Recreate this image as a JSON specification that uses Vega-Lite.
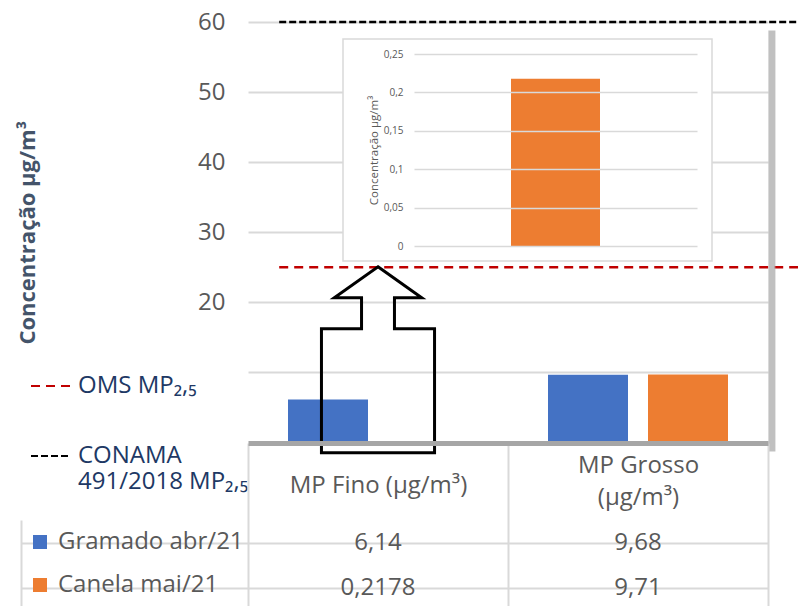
{
  "$schema": "https://vega.github.io/schema/vega-lite/v6.json",
  "width": 798,
  "height": 606,
  "autosize": "none",
  "padding": 0,
  "background": "white",
  "config": {
    "view": {"stroke": null},
    "font": "Open Sans",
    "locale": {"number": {"decimal": ",", "thousands": ".", "grouping": [3], "currency": ["R$", ""]}}
  },
  "datasets": {
    "medicoes": [
      {"tamanho": "MP Fino (µg/m³)", "serie": "Gramado abr/21", "valor": 6.14},
      {"tamanho": "MP Fino (µg/m³)", "serie": "Canela mai/21", "valor": 0.2178},
      {"tamanho": "MP Grosso (µg/m³)", "serie": "Gramado abr/21", "valor": 9.68},
      {"tamanho": "MP Grosso (µg/m³)", "serie": "Canela mai/21", "valor": 9.71}
    ],
    "limites": [
      {"limite": "OMS MP₂,₅", "valor": 25},
      {"limite": "CONAMA 491/2018 MP₂,₅", "valor": 60}
    ],
    "anotacao": [
      {"anotacao": "ampliação de Canela mai/21, MP Fino"}
    ],
    "sombra": [
      {"elemento": "sombra do gráfico"}
    ]
  },
  "resolve": {"scale": {"x": "independent", "y": "independent", "color": "independent"}},
  "layer": [
    {
      "data": {"name": "medicoes"},
      "layer": [
        {
          "mark": {"type": "bar"},
          "encoding": {
            "x": {
              "field": "tamanho", "type": "nominal",
              "scale": {"domain": ["MP Fino (µg/m³)", "MP Grosso (µg/m³)"], "range": [248, 768], "paddingInner": 0, "paddingOuter": 0},
              "axis": null
            },
            "xOffset": {
              "field": "serie", "type": "nominal",
              "scale": {"domain": ["Gramado abr/21", "Canela mai/21"], "paddingInner": 0.2, "paddingOuter": 0.4}
            },
            "y": {
              "field": "valor", "type": "quantitative",
              "scale": {"domain": [0, 60], "range": [442.5, 22], "nice": false},
              "axis": {
                "orient": "left", "offset": -248,
                "values": [10, 20, 30, 40, 50, 60],
                "labelExpr": "datum.value == 10 ? '' : datum.label",
                "grid": true, "gridColor": "#d9d9d9", "gridWidth": 2,
                "domain": false, "ticks": false,
                "labelPadding": 23, "labelFontSize": 24, "labelColor": "#595959",
                "title": "Concentração µg/m³", "titleFontSize": 22, "titleFontWeight": "bold",
                "titleColor": "#44546A", "titlePadding": 158
              }
            },
            "color": {
              "field": "serie", "type": "nominal",
              "scale": {"domain": ["Gramado abr/21", "Canela mai/21"], "range": ["#4472C4", "#ED7D31"]},
              "legend": {
                "orient": "none", "legendX": 28, "legendY": 530, "title": null,
                "symbolType": "square", "symbolSize": 196, "symbolStrokeWidth": 0, "symbolOpacity": 1,
                "labelFontSize": 24, "labelColor": "#595959", "labelOffset": 6, "labelLimit": 300,
                "rowPadding": 19, "padding": 0
              }
            }
          }
        },
        {
          "data": {"name": "limites"},
          "mark": {"type": "rule", "strokeWidth": 2.5},
          "encoding": {
            "y": {"field": "valor", "type": "quantitative"},
            "x": {"datum": "MP Fino (µg/m³)", "bandPosition": 0.12},
            "x2": {"value": "width"},
            "stroke": {
              "field": "limite", "type": "nominal",
              "scale": {"domain": ["OMS MP₂,₅", "CONAMA 491/2018 MP₂,₅"], "range": ["#C00000", "#000000"]},
              "legend": {
                "orient": "none", "legendX": 30, "legendY": 365, "title": null,
                "symbolType": "stroke", "symbolSize": 1600, "symbolStrokeWidth": 2,
                "labelFontSize": 24, "labelColor": "#203864", "labelOffset": 6, "labelLimit": 300,
                "labelExpr": "datum.label == 'CONAMA 491/2018 MP₂,₅' ? ['CONAMA', '491/2018 MP₂,₅'] : datum.label",
                "rowPadding": 37, "padding": 0
              }
            },
            "strokeDash": {
              "field": "limite", "type": "nominal",
              "scale": {"domain": ["OMS MP₂,₅", "CONAMA 491/2018 MP₂,₅"], "range": [[9, 6], [7, 3]]},
              "legend": {
                "orient": "none", "legendX": 30, "legendY": 365, "title": null,
                "symbolType": "stroke", "symbolSize": 1600, "symbolStrokeWidth": 2,
                "labelFontSize": 24, "labelColor": "#203864", "labelOffset": 6, "labelLimit": 300,
                "labelExpr": "datum.label == 'CONAMA 491/2018 MP₂,₅' ? ['CONAMA', '491/2018 MP₂,₅'] : datum.label",
                "rowPadding": 37, "padding": 0
              }
            }
          }
        },
        {
          "data": {"name": "sombra"},
          "mark": {"type": "rule", "color": "#b0b0b0", "strokeWidth": 7, "opacity": 0.8},
          "encoding": {
            "x": {"datum": "MP Grosso (µg/m³)", "bandPosition": 1.015},
            "y": {"datum": 58.8, "type": "quantitative"},
            "y2": {"datum": -1.3}
          }
        }
      ]
    },
    {
      "data": {"name": "medicoes"},
      "transform": [{"filter": "datum.serie == 'Canela mai/21' && datum.tamanho == 'MP Fino (µg/m³)'"}],
      "mark": {"type": "rect", "fill": "white", "stroke": "#d9d9d9", "strokeWidth": 1.5},
      "encoding": {
        "x": {"field": "serie", "type": "nominal", "scale": {"range": [343, 712], "paddingInner": 0, "paddingOuter": 0}, "axis": null},
        "y": {"field": "tamanho", "type": "nominal", "scale": {"range": [39, 261], "paddingInner": 0, "paddingOuter": 0}, "axis": null}
      }
    },
    {
      "data": {"name": "medicoes"},
      "transform": [{"filter": "datum.serie == 'Canela mai/21' && datum.tamanho == 'MP Fino (µg/m³)'"}],
      "mark": {"type": "bar", "color": "#ED7D31"},
      "encoding": {
        "x": {"field": "serie", "type": "nominal", "scale": {"range": [414, 697], "paddingInner": 0.0825, "paddingOuter": 1}, "axis": null},
        "y": {
          "field": "valor", "type": "quantitative",
          "scale": {"domain": [0, 0.25], "range": [246, 54], "nice": false},
          "axis": {
            "orient": "left", "offset": -414, "zindex": 1,
            "values": [0, 0.05, 0.1, 0.15, 0.2, 0.25], "format": "~g",
            "grid": true, "gridColor": "#d9d9d9", "gridWidth": 1.5,
            "domain": false, "ticks": false,
            "labelPadding": 11, "labelFontSize": 10, "labelColor": "#595959",
            "title": "Concentração µg/m³", "titleFontSize": 11.5, "titleFontWeight": "normal",
            "titleColor": "#595959", "titlePadding": 4
          }
        }
      }
    },
    {
      "data": {"name": "medicoes"},
      "mark": {"type": "text", "fontSize": 24, "color": "#595959"},
      "encoding": {
        "x": {
          "field": "tamanho", "type": "nominal",
          "scale": {"domain": ["MP Fino (µg/m³)", "MP Grosso (µg/m³)"], "range": [248, 768], "paddingInner": 0, "paddingOuter": 0},
          "axis": {
            "orient": "bottom", "offset": -163, "title": null, "zindex": 1,
            "domain": true, "domainColor": "#a6a6a6", "domainWidth": 5,
            "ticks": true, "tickBand": "extent", "tickSize": 170, "tickColor": "#d9d9d9", "tickWidth": 2,
            "labelAngle": 0, "labelFontSize": 24, "labelColor": "#595959",
            "labelBaseline": "middle", "labelLineHeight": 32,
            "labelPadding": {"condition": {"test": "datum.value == 'MP Grosso (µg/m³)'", "value": -148}, "value": -128},
            "labelExpr": "datum.label == 'MP Grosso (µg/m³)' ? ['MP Grosso', '(µg/m³)'] : datum.label"
          }
        },
        "y": {
          "field": "serie", "type": "nominal",
          "scale": {"domain": ["Gramado abr/21", "Canela mai/21"], "range": [520, 610], "paddingInner": 0, "paddingOuter": 0},
          "axis": {
            "orient": "left", "offset": -21, "title": null,
            "domain": true, "domainColor": "#d9d9d9", "domainWidth": 2,
            "bandPosition": 0, "ticks": true, "tickSize": -227, "tickColor": "#d9d9d9", "tickWidth": 2,
            "grid": true, "gridColor": "#d9d9d9", "gridWidth": 2,
            "labels": false
          }
        },
        "text": {"field": "valor", "type": "quantitative", "format": "~g"}
      }
    },
    {
      "data": {"name": "anotacao"},
      "mark": {
        "type": "point",
        "shape": "M0,-1L0.47,-0.667L0.177,-0.667L0.177,-0.333L0.608,-0.333L0.608,1L-0.608,1L-0.608,-0.333L-0.177,-0.333L-0.177,-0.667L-0.47,-0.667Z",
        "size": 34596, "filled": false, "stroke": "black", "strokeWidth": 3, "opacity": 1
      },
      "encoding": {
        "x": {
          "datum": "MP Fino (µg/m³)", "bandPosition": 0.906,
          "scale": {"domain": ["MP Fino (µg/m³)", "MP Grosso (µg/m³)"], "range": [248, 768], "paddingInner": 0, "paddingOuter": 0},
          "axis": null
        },
        "y": {
          "datum": 11.8, "type": "quantitative",
          "scale": {"domain": [0, 60], "range": [442.5, 22], "nice": false},
          "axis": null
        }
      }
    }
  ]
}
